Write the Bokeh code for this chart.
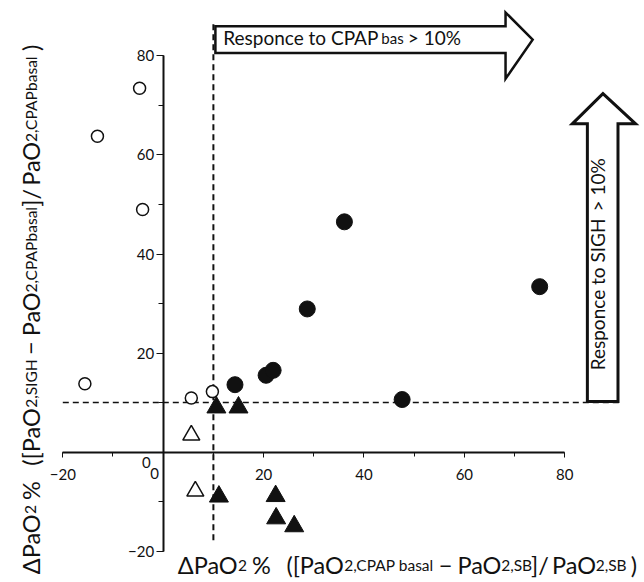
import math
from bokeh.plotting import figure
from bokeh.models import Range1d, LinearAxis, SingleIntervalTicker, ColumnDataSource
from bokeh.embed import file_html
from bokeh.resources import INLINE
from bokeh.core.properties import value

# ---------------- data ----------------
open_circle_x = [-4.7, -13.1, -4.1, -15.6, 5.6, 9.8]
open_circle_y = [73.5, 63.8, 49.0, 13.8, 10.9, 12.2]

filled_circle_x = [36.1, 28.7, 20.5, 21.9, 14.3, 47.6, 75.0]
filled_circle_y = [46.5, 28.9, 15.5, 16.5, 13.6, 10.6, 33.4]

filled_triangle_x = [10.6, 15.0, 11.1, 22.4, 22.5, 26.1]
filled_triangle_y = [9.0, 9.0, -9.0, -8.9, -13.4, -15.0]

open_triangle_x = [5.6, 6.4]
open_triangle_y = [3.4, -7.9]

threshold = 10          # 10 % response thresholds
axis_bounds = (-20, 80)
tick_interval = 20

FONT = "Lato"
INK = "#111111"

W_PX, H_PX = 644, 582
XR = (-32.41, 95.88)
YR = (-26.36, 91.21)
SX = W_PX / (XR[1] - XR[0])
SY = H_PX / (YR[1] - YR[0])

p = figure(width=W_PX, height=H_PX, output_backend="svg", toolbar_location=None,
           x_range=Range1d(*XR), y_range=Range1d(*YR),
           x_axis_type=None, y_axis_type=None, min_border=0,
           outline_line_color=None, background_fill_color="white")

# ---------------- axes through the origin ----------------
xaxis = LinearAxis(fixed_location=0, bounds=axis_bounds,
                   ticker=SingleIntervalTicker(interval=tick_interval, num_minor_ticks=2))
yaxis = LinearAxis(fixed_location=0, bounds=axis_bounds,
                   ticker=SingleIntervalTicker(interval=tick_interval, num_minor_ticks=2))
for ax, tout, mout, stand in ((xaxis, 5, 4, 12), (yaxis, 7, 5, 2)):
    ax.axis_line_width = 2
    ax.axis_line_color = INK
    ax.major_tick_in = 0
    ax.minor_tick_in = 0
    ax.major_tick_out = tout
    ax.minor_tick_out = mout
    ax.major_tick_line_color = INK
    ax.minor_tick_line_color = INK
    ax.major_label_text_font = FONT
    ax.major_label_text_font_size = "15px"
    ax.major_label_text_color = INK
    ax.major_label_standoff = stand
    ax.major_label_overrides = {0: ""}
p.add_layout(xaxis, "below")
p.add_layout(yaxis, "left")

# the two "0" labels that sit off the origin
p.text(x=[-3.37, -1.73], y=[-2.06, -4.4], text=["0", "0"],
       text_font=value(FONT), text_font_size="15px", text_color=INK,
       text_align="center", text_baseline="middle")

# ---------------- threshold lines ----------------
p.line(x=[threshold, threshold], y=[-17.8, 86.8], line_color=INK,
       line_width=2, line_dash="6 4")
p.line(x=[-20, 91.1], y=[threshold, threshold], line_color=INK,
       line_width=1.3, line_dash="6 4")

# ---------------- arrows ----------------
p.patch(x=[10.4, 68.2, 68.2, 73.6, 68.2, 68.2, 10.4],
        y=[80.6, 80.6, 75.4, 83.3, 88.8, 86.0, 86.0],
        fill_color="white", line_color=INK, line_width=2.5, line_join="miter")
p.patch(x=[84.5, 90.6, 90.6, 94.1, 87.6, 81.5, 84.5],
        y=[10.2, 10.2, 66.3, 66.3, 72.4, 66.3, 66.3],
        fill_color="white", line_color=INK, line_width=3, line_join="miter")

# ---------------- markers ----------------
p.scatter(open_circle_x, open_circle_y, marker="circle", size=12,
          fill_color="white", line_color=INK, line_width=1.5)
p.scatter(filled_circle_x, filled_circle_y, marker="circle", size=16,
          fill_color=INK, line_color=INK)
p.scatter(filled_triangle_x, filled_triangle_y, marker="triangle", size=19,
          fill_color=INK, line_color=INK)
p.scatter(open_triangle_x, open_triangle_y, marker="triangle", size=17,
          fill_color="white", line_color=INK, line_width=1.5)

# ---------------- rich text helpers ----------------
WID = {" ": .22, "Δ": .70, "P": .58, "a": .50, "O": .78, "2": .58, "%": .80,
       "(": .30, "[": .30, "]": .30, ")": .30, "/": .37, "−": .58, ",": .21,
       "C": .67, "A": .68, "S": .51, "B": .63, "b": .56, "s": .43, "l": .25,
       "I": .27, "G": .74, "H": .76, "R": .62, "e": .53, "p": .56, "o": .57,
       "n": .56, "c": .47, "t": .36, ">": .58, "1": .58, "0": .58}


def text_width(s, size):
    return sum(WID.get(ch, .55) for ch in s) * size


def rich(runs, x0, y0, vertical=False):
    """runs: (text, size); whitespace-only runs only advance the pen."""
    xs, ys, ts, fs = [], [], [], []
    pos = 0.0
    for t, size in runs:
        if t.strip():
            if vertical:
                xs.append(x0)
                ys.append(y0 + pos / SY)
            else:
                xs.append(x0 + pos / SX)
                ys.append(y0)
            ts.append(t)
            fs.append(f"{size}px")
        pos += text_width(t, size)
    src = ColumnDataSource(dict(x=xs, y=ys, text=ts, fs=fs))
    p.text(x="x", y="y", text="text", source=src, text_font=value(FONT),
           text_font_size="fs", text_color=INK, text_align="left",
           text_baseline="alphabetic", angle=math.pi / 2 if vertical else 0)


L, S = 23.5, 15.5
x_title = [("ΔPaO", L), ("2", S), (" ", L), ("%", L), ("   ", L), ("([PaO", L),
           ("2,CPAP", S), (" ", S), ("basal", S), (" ", L), ("−", L), (" ", L),
           ("PaO", L), ("2,SB", S), ("]/", L), (" ", L), ("PaO", L),
           ("2,SB", S), (" ", L), (")", L)]
y_title = [("ΔPaO", L), ("2", S), (" ", L), ("%", L), ("   ", L), ("([PaO", L),
           ("2,SIGH", S), (" ", L), ("−", L), (" ", L), ("PaO", L),
           ("2,CPAP", S), ("basal", S), ("]/", L), (" ", L), ("PaO", L),
           ("2,CPAP", S), ("basal", S), (" ", L), (")", L)]
top_text = [("Responce to CPAP", 19), (" ", 15), ("bas", 15), (" ", 19), ("> 10%", 19)]
side_text = [("Responce to SIGH", 19), ("  ", 19), ("> 10%", 19)]

rich(x_title, 2.9, -22.9)
rich(y_title, -26.4, -24.7, vertical=True)
rich(top_text, 11.95, 83.7)
rich(side_text, 86.5, 16.5, vertical=True)

open("out.html", "w").write(file_html(p, INLINE))
